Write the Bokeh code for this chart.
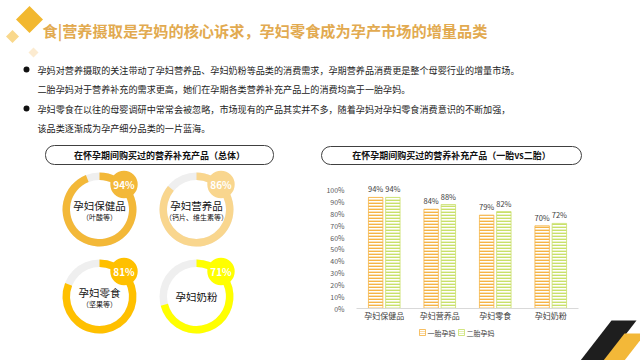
import math
from bokeh.plotting import figure
from bokeh.models import Range1d, ColumnDataSource, FixedTicker
from bokeh.transform import dodge
from bokeh.core.properties import value
from bokeh.embed import file_html
from bokeh.resources import INLINE

FONT = "Noto Sans CJK SC"

# ---------------- data ----------------
title_text = "食|营养摄取是孕妈的核心诉求，孕妇零食成为孕产市场的增量品类"
bullet_lines = [
    "孕妈对营养摄取的关注带动了孕妇营养品、孕妇奶粉等品类的消费需求，孕期营养品消费更是整个母婴行业的增量市场。",
    "二胎孕妈对于营养补充的需求更高，她们在孕期各类营养补充产品上的消费均高于一胎孕妈。",
    "孕妇零食在以往的母婴调研中常常会被忽略，市场现有的产品其实并不多，随着孕妈对孕妇零食消费意识的不断加强，",
    "该品类逐渐成为孕产细分品类的一片蓝海。",
]
left_panel_title = "在怀孕期间购买过的营养补充产品（总体）"
right_panel_title = "在怀孕期间购买过的营养补充产品（一胎vs二胎）"

donut_names = ["孕妇保健品", "孕妇营养品", "孕妇零食", "孕妇奶粉"]
donut_notes = ["（叶酸等）", "（钙片、维生素等）", "（坚果等）", ""]
donut_values = [94, 86, 81, 71]

categories = ["孕妇保健品", "孕妇营养品", "孕妇零食", "孕妇奶粉"]
first_child = [94, 84, 79, 70]
second_child = [94, 88, 82, 72]
series_names = ["一胎孕妈", "二胎孕妈"]
y_ticks = [0, 10, 20, 30, 40, 50, 60, 70, 80, 90, 100]

# ---------------- layout / style ----------------
W, H = 640, 360
FR_L, FR_R, FR_T, FR_B = 356, 578, 178, 308
def Y(py):
    return H - py

donut_colors = ["#F3B838", "#F9D68E", "#FFC000", "#FFFF00"]
donut_cx = [99, 196, 99, 196]
donut_cy = [209, 209, 296, 296]
R_IN, R_OUT = 29.5, 37
ORANGE = "#F5B445"
GREEN = "#C9E06A"
series_colors = [ORANGE, GREEN]

idx = list(range(len(categories)))
p = figure(frame_width=FR_R - FR_L, frame_height=FR_B - FR_T,
           x_range=Range1d(-0.5, len(categories) - 0.5), y_range=Range1d(0, 110),
           output_backend="svg", toolbar_location=None, title=None,
           min_border_left=FR_L, min_border_right=W - FR_R,
           min_border_top=FR_T, min_border_bottom=H - FR_B,
           outline_line_color=None, background_fill_color="white", border_fill_color="white")
p.xgrid.visible = False
p.ygrid.visible = False
p.extra_x_ranges = {"px": Range1d(FR_L, FR_R)}
p.extra_y_ranges = {"px": Range1d(Y(FR_B), Y(FR_T))}

# axes
p.yaxis.ticker = FixedTicker(ticks=y_ticks)
p.yaxis.major_label_overrides = {t: f"{t}%" for t in y_ticks}
p.yaxis.axis_line_color = None
p.yaxis.major_tick_line_color = None
p.yaxis.minor_tick_line_color = None
p.yaxis.major_label_text_font_size = "7px"
p.yaxis.major_label_text_color = "#595959"
p.yaxis.major_label_text_font = FONT
p.yaxis.major_label_standoff = 6
p.xaxis.ticker = FixedTicker(ticks=idx)
p.xaxis.major_label_overrides = {i: c for i, c in zip(idx, categories)}
p.xaxis.axis_line_color = "#D9D9D9"
p.xaxis.major_tick_line_color = None
p.xaxis.minor_tick_line_color = None
p.xaxis.major_label_text_font_size = "8px"
p.xaxis.major_label_text_color = "#404040"
p.xaxis.major_label_text_font = FONT
p.xaxis.major_label_standoff = 1
p.xaxis.major_tick_out = 0

# bars
src = ColumnDataSource(dict(i=idx, a=first_child, b=second_child,
                            la=[f"{v}%" for v in first_child],
                            lb=[f"{v}%" for v in second_child]))
OFF, BW = 0.155, 0.26
hatch = dict(fill_color="white", line_width=0.8, hatch_pattern="horizontal_line",
             hatch_scale=3, hatch_weight=1.8)
p.vbar(x=dodge("i", -OFF), top="a", width=BW, source=src,
       line_color=ORANGE, hatch_color=ORANGE, **hatch)
p.vbar(x=dodge("i", OFF), top="b", width=BW, source=src,
       line_color=GREEN, hatch_color=GREEN, **hatch)
for col, lab, off in (("a", "la", -OFF), ("b", "lb", OFF)):
    p.text(x=dodge("i", off), y=col, text=lab, source=src,
           y_offset=-3, text_align="center", text_baseline="bottom",
           text_font=value(FONT), text_font_size="7.5px", text_color="#404040")

ov = dict(x_range_name="px", y_range_name="px", level="overlay")

# legend (drawn below the chart)
leg_x = [419, 458]
for lx, c in zip(leg_x, series_colors):
    p.quad(left=[lx], right=[lx + 6], top=[Y(329)], bottom=[Y(335)],
           line_color=c, hatch_color=c, fill_color="white", line_width=0.8,
           hatch_pattern="horizontal_line", hatch_scale=2, hatch_weight=1.2, **ov)
p.text(x=[lx + 8 for lx in leg_x], y=[Y(332)] * 2, text=series_names, text_font=value(FONT),
       text_font_size="7px", text_color="#404040", text_baseline="middle", **ov)

# title decorations (diamonds)
dm_x, dm_y, dm_r = [29, 12, 33], [19, 36, 52], [13.5, 6.5, 5]
dm_c = ["#F2B830", "#F9D88C", "#FCEBD0"]
for cx, cy, r, c in zip(dm_x, dm_y, dm_r, dm_c):
    p.harea(y=[Y(cy - r), Y(cy), Y(cy + r)], x1=[cx, cx - r, cx], x2=[cx, cx + r, cx],
            fill_color=c, **ov)
p.text(x=[42], y=[Y(29)], text=[title_text], text_font=value(FONT), text_font_size="15.2px",
       text_font_style="bold", text_color="#E2AA50", text_baseline="middle", **ov)

# bullets
line_y = [69, 88, 108, 127]
p.annulus(x=[26, 26], y=[Y(69), Y(108)], inner_radius=0, outer_radius=3,
          fill_color="#111111", line_color=None, **ov)
p.text(x=[37] * 4, y=[Y(v) for v in line_y], text=bullet_lines, text_font=value(FONT),
       text_font_size="9.1px", text_color="#222222", text_baseline="middle", **ov)

# panel titles
p.quad(left=[45, 321], right=[273, 581], top=[Y(145), Y(146)], bottom=[Y(164), Y(164)],
       fill_color="white", line_color="#404040", line_width=1, border_radius=9, **ov)
p.text(x=[159, 451], y=[Y(155), Y(155)], text=[left_panel_title, right_panel_title],
       text_font=value(FONT), text_font_size="9px", text_font_style="bold",
       text_color="#111111", text_align="center", text_baseline="middle", **ov)

# donuts
cyu = [Y(v) for v in donut_cy]
p.annulus(x=donut_cx, y=cyu, inner_radius=R_IN, outer_radius=R_OUT,
          fill_color="#EFEFEF", line_color=None, **ov)
p.annular_wedge(x=donut_cx, y=cyu, inner_radius=R_IN, outer_radius=R_OUT,
                start_angle=[math.pi / 2 - 2 * math.pi * v / 100 for v in donut_values],
                end_angle=[math.pi / 2] * 4, direction="anticlock",
                fill_color=donut_colors, line_color=None, **ov)
bx = [c + 24.5 for c in donut_cx]
by = [c + 25 for c in cyu]
p.annulus(x=bx, y=by, inner_radius=0, outer_radius=13.7, fill_color=donut_colors,
          line_color=None, **ov)
p.text(x=bx, y=by, text=[f"{v}%" for v in donut_values], text_font=value(FONT),
       text_font_size="10px", text_font_style="bold", text_color="white",
       text_align="center", text_baseline="middle", **ov)
name_y = [c + 4 if n else c for c, n in zip(cyu, donut_notes)]
p.text(x=donut_cx, y=name_y, text=donut_names, text_font=value(FONT), text_font_size="10.5px",
       text_color="#111111", text_align="center", text_baseline="middle", **ov)
p.text(x=donut_cx, y=[c - 7.5 for c in cyu], text=donut_notes, text_font=value(FONT),
       text_font_size="7px", text_color="#111111", text_align="center", text_baseline="middle", **ov)

# bottom-right decoration
p.harea(y=[Y(320), Y(360)], x1=[611, 580], x2=[636, 605], fill_color="#1E1E1E", **ov)
p.harea(y=[Y(333), Y(360)], x1=[624, 603], x2=[645, 624], fill_color="#F3B838", **ov)

open("out.html", "w").write(file_html(p, INLINE))
